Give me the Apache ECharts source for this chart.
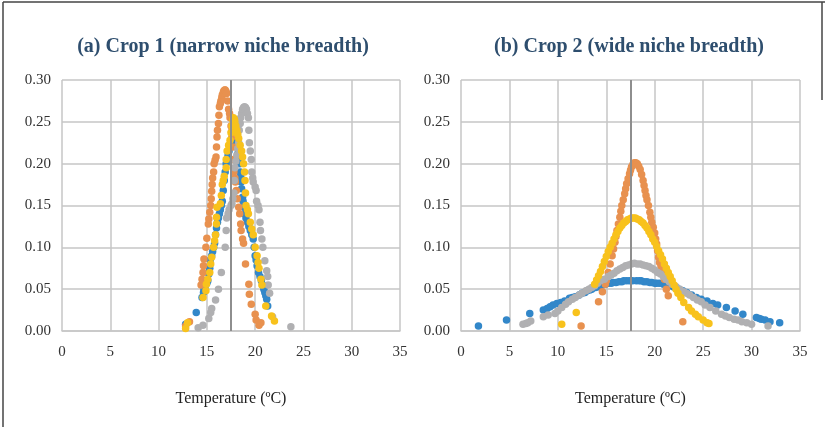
<!DOCTYPE html>
<html>
<head>
<meta charset="utf-8">
<script src="https://cdn.jsdelivr.net/npm/echarts@6/dist/echarts.min.js"></script>
<style>
  html, body { margin: 0; padding: 0; background: #fff; }
  #chart { width: 825px; height: 427px; }
</style>
</head>
<body>
<div id="chart"></div>
<script>
// Crop 1 (narrow niche breadth): [temperature, suitability]
const crop1Blue = [[12.8,0.008],[13.9,0.022],[14.5,0.04],[14.65,0.046],[14.7,0.05],[14.8,0.052],[15.0,0.057],[15.1,0.06],[15.2,0.068],[15.25,0.072],[15.3,0.075],[15.35,0.085],[15.5,0.09],[15.6,0.095],[15.7,0.1],[15.8,0.105],[15.9,0.115],[16.0,0.123],[16.1,0.13],[16.2,0.135],[16.3,0.14],[16.4,0.145],[16.5,0.15],[16.6,0.155],[16.7,0.168],[16.8,0.18],[16.9,0.19],[17.0,0.2],[17.1,0.205],[17.2,0.21],[17.3,0.215],[17.4,0.222],[17.5,0.226],[17.6,0.23],[17.7,0.231],[17.8,0.232],[17.9,0.23],[18.0,0.225],[18.1,0.22],[18.2,0.212],[18.3,0.206],[18.4,0.2],[18.45,0.19],[18.5,0.185],[18.55,0.178],[18.6,0.17],[18.7,0.16],[18.75,0.155],[18.85,0.148],[18.9,0.14],[19.05,0.135],[19.2,0.13],[19.35,0.125],[19.5,0.12],[19.65,0.115],[19.8,0.11],[19.9,0.1],[20.0,0.09],[20.1,0.085],[20.2,0.078],[20.35,0.07],[20.5,0.065],[20.65,0.06],[20.8,0.055],[20.9,0.05],[21.0,0.046],[21.1,0.042],[21.2,0.038],[21.3,0.03]];
const crop1Orange = [[12.8,0.006],[13.2,0.011],[14.4,0.055],[14.5,0.062],[14.6,0.07],[14.65,0.078],[14.7,0.086],[14.9,0.1],[15.0,0.111],[15.15,0.128],[15.2,0.134],[15.3,0.142],[15.4,0.15],[15.45,0.158],[15.5,0.167],[15.55,0.175],[15.6,0.183],[15.7,0.19],[15.75,0.2],[15.85,0.204],[15.95,0.208],[16.0,0.22],[16.05,0.232],[16.1,0.24],[16.2,0.248],[16.25,0.258],[16.3,0.268],[16.4,0.272],[16.45,0.275],[16.55,0.279],[16.6,0.282],[16.7,0.285],[16.75,0.287],[16.85,0.288],[16.9,0.288],[17.0,0.286],[17.05,0.284],[17.15,0.275],[17.25,0.265],[17.35,0.26],[17.4,0.255],[17.5,0.245],[17.55,0.238],[17.6,0.232],[17.7,0.22],[17.75,0.205],[17.8,0.19],[17.9,0.183],[17.95,0.178],[18.05,0.168],[18.15,0.158],[18.3,0.148],[18.4,0.14],[18.5,0.128],[18.55,0.12],[18.7,0.11],[18.8,0.105],[19.0,0.08],[19.35,0.056],[19.4,0.044],[19.6,0.032],[20.0,0.02],[20.1,0.013],[20.4,0.007],[20.6,0.01]];
const crop1Gray = [[14.1,0.004],[14.6,0.007],[15.2,0.015],[15.4,0.022],[15.5,0.027],[15.9,0.037],[16.2,0.05],[16.5,0.07],[16.9,0.1],[17.0,0.12],[17.05,0.135],[17.2,0.14],[17.3,0.145],[17.5,0.15],[17.6,0.152],[17.7,0.158],[17.8,0.165],[17.85,0.18],[17.9,0.195],[18.0,0.203],[18.1,0.21],[18.2,0.218],[18.3,0.225],[18.35,0.24],[18.45,0.248],[18.5,0.255],[18.6,0.26],[18.7,0.265],[18.8,0.267],[18.9,0.268],[19.0,0.267],[19.1,0.265],[19.2,0.26],[19.3,0.255],[19.35,0.24],[19.4,0.225],[19.5,0.215],[19.6,0.205],[19.65,0.19],[19.75,0.183],[19.8,0.178],[20.0,0.172],[20.1,0.168],[20.15,0.155],[20.3,0.15],[20.4,0.145],[20.5,0.13],[20.55,0.12],[20.7,0.11],[20.8,0.1],[21.0,0.084],[21.2,0.072],[21.3,0.065],[21.35,0.055],[21.5,0.045],[21.8,0.017],[23.7,0.005]];
const crop1Yellow = [[12.8,0.003],[13.0,0.01],[14.6,0.04],[14.9,0.048],[14.95,0.056],[15.1,0.062],[15.3,0.07],[15.4,0.08],[15.5,0.088],[15.7,0.1],[15.8,0.108],[15.9,0.115],[16.0,0.128],[16.0,0.136],[16.05,0.148],[16.4,0.152],[16.5,0.162],[16.6,0.175],[16.7,0.18],[16.8,0.185],[17.0,0.195],[17.0,0.205],[17.1,0.215],[17.25,0.222],[17.4,0.228],[17.5,0.237],[17.6,0.245],[17.7,0.252],[17.75,0.255],[17.85,0.253],[17.9,0.25],[18.0,0.245],[18.1,0.24],[18.2,0.235],[18.3,0.23],[18.45,0.222],[18.6,0.215],[18.7,0.208],[18.8,0.2],[18.9,0.19],[18.95,0.18],[19.0,0.165],[19.05,0.15],[19.2,0.145],[19.3,0.14],[19.5,0.13],[19.65,0.122],[19.8,0.115],[20.0,0.1],[20.2,0.09],[20.3,0.082],[20.4,0.075],[20.6,0.062],[20.7,0.055],[21.1,0.03],[21.7,0.018],[22.0,0.012]];

// Crop 2 (wide niche breadth)
const crop2Blue = [[1.8,0.006],[4.7,0.013],[7.1,0.021],[8.5,0.025],[8.9,0.027],[9.2,0.029],[9.5,0.031],[9.9,0.033],[10.3,0.034],[10.7,0.036],[11.2,0.039],[11.5,0.04],[11.8,0.041],[12.2,0.043],[12.5,0.045],[12.8,0.046],[13.0,0.048],[13.3,0.049],[13.5,0.05],[13.9,0.052],[14.2,0.053],[14.6,0.055],[14.9,0.056],[15.2,0.057],[15.5,0.057],[15.7,0.058],[16.0,0.058],[16.3,0.059],[16.6,0.059],[16.8,0.06],[17.1,0.06],[17.4,0.06],[17.7,0.06],[18.1,0.06],[18.4,0.06],[18.6,0.06],[18.9,0.059],[19.2,0.059],[19.5,0.058],[19.7,0.058],[20.0,0.057],[20.2,0.057],[20.5,0.057],[20.9,0.056],[21.2,0.055],[21.5,0.055],[21.9,0.053],[22.2,0.051],[22.5,0.05],[22.9,0.048],[23.3,0.046],[23.8,0.043],[24.3,0.04],[24.8,0.038],[25.4,0.036],[26.0,0.033],[26.5,0.031],[27.4,0.028],[28.3,0.024],[29.1,0.02],[30.5,0.016],[30.8,0.015],[31.0,0.014],[31.4,0.013],[31.9,0.011],[32.9,0.01]];
const crop2Orange = [[12.4,0.006],[14.2,0.035],[14.6,0.047],[14.9,0.056],[15.0,0.06],[15.2,0.07],[15.4,0.08],[15.6,0.09],[15.75,0.098],[15.9,0.106],[16.0,0.113],[16.1,0.12],[16.25,0.128],[16.4,0.136],[16.5,0.143],[16.6,0.15],[16.75,0.157],[16.9,0.164],[17.0,0.17],[17.1,0.176],[17.25,0.182],[17.4,0.188],[17.5,0.192],[17.6,0.196],[17.75,0.199],[17.9,0.201],[18.05,0.201],[18.2,0.2],[18.35,0.197],[18.5,0.193],[18.65,0.187],[18.8,0.18],[18.9,0.174],[19.0,0.168],[19.1,0.162],[19.2,0.157],[19.35,0.15],[19.5,0.142],[19.6,0.136],[19.7,0.13],[19.85,0.124],[20.0,0.117],[20.1,0.11],[20.2,0.104],[20.3,0.096],[20.4,0.088],[20.5,0.082],[20.65,0.077],[20.8,0.072],[21.0,0.062],[21.2,0.05],[21.4,0.042],[22.9,0.011]];
const crop2Gray = [[6.4,0.008],[6.7,0.009],[6.9,0.01],[7.2,0.012],[8.5,0.017],[9.0,0.019],[9.7,0.021],[10.0,0.024],[10.4,0.028],[10.8,0.032],[11.1,0.035],[11.5,0.038],[11.8,0.04],[12.2,0.043],[12.5,0.045],[12.9,0.048],[13.2,0.05],[13.5,0.052],[13.8,0.054],[14.1,0.057],[14.4,0.06],[14.8,0.062],[15.2,0.065],[15.5,0.067],[15.8,0.069],[16.1,0.072],[16.4,0.074],[16.7,0.076],[17.0,0.078],[17.3,0.079],[17.6,0.08],[17.9,0.081],[18.2,0.08],[18.5,0.08],[18.8,0.079],[19.1,0.078],[19.4,0.077],[19.7,0.075],[20.0,0.073],[20.3,0.07],[20.6,0.068],[20.9,0.065],[21.2,0.062],[21.5,0.059],[21.8,0.056],[22.2,0.053],[22.6,0.05],[23.0,0.047],[23.3,0.045],[23.6,0.043],[24.0,0.04],[24.4,0.037],[24.8,0.035],[25.2,0.031],[25.7,0.028],[26.3,0.024],[26.9,0.02],[27.3,0.018],[27.7,0.016],[28.2,0.014],[28.6,0.013],[29.0,0.011],[29.5,0.01],[30.0,0.008],[31.7,0.006]];
const crop2Yellow = [[10.4,0.008],[11.9,0.022],[13.8,0.056],[14.0,0.061],[14.2,0.066],[14.4,0.071],[14.6,0.077],[14.8,0.083],[15.0,0.089],[15.2,0.095],[15.4,0.1],[15.6,0.105],[15.8,0.11],[16.0,0.115],[16.2,0.119],[16.4,0.123],[16.6,0.126],[16.8,0.129],[17.0,0.131],[17.2,0.133],[17.4,0.134],[17.6,0.135],[17.8,0.135],[18.0,0.135],[18.2,0.134],[18.4,0.133],[18.6,0.131],[18.8,0.129],[19.0,0.126],[19.2,0.123],[19.4,0.119],[19.6,0.115],[19.8,0.11],[20.0,0.106],[20.2,0.101],[20.4,0.096],[20.6,0.091],[20.8,0.086],[21.0,0.08],[21.2,0.075],[21.4,0.07],[21.6,0.065],[21.8,0.06],[22.0,0.055],[22.2,0.05],[22.4,0.045],[22.7,0.04],[23.0,0.034],[23.5,0.028],[23.8,0.024],[24.2,0.02],[24.5,0.017],[25.0,0.013],[25.4,0.01],[25.6,0.009]];

const optimumTemp = 17.5;
const panelTitles = ["(a) Crop 1 (narrow niche breadth)", "(b) Crop 2 (wide niche breadth)"];
const colors = ["#3287c9", "#e8914f", "#b0b0b2", "#f8c21c"];

const serif = "'Liberation Serif', 'DejaVu Serif', serif";
const gridColor = "#c6c6c6";

function buildAxes(index) {
  const xAxis = {
    type: "value", gridIndex: index, min: 0, max: 35, interval: 5,
    name: "Temperature (ºC)", nameLocation: "middle", nameGap: 60,
    nameTextStyle: { fontFamily: serif, fontSize: 16, color: "#222" },
    axisLine: { show: true, lineStyle: { color: gridColor, width: 1.5 } },
    axisTick: { show: false },
    axisLabel: { fontFamily: serif, fontSize: 15, color: "#333", margin: 14 },
    splitLine: { show: true, lineStyle: { color: gridColor, width: 1.5 } },
  };
  const yAxis = {
    type: "value", gridIndex: index, min: 0, max: 0.3, interval: 0.05,
    axisLine: { show: false }, axisTick: { show: false },
    axisLabel: { fontFamily: serif, fontSize: 15, color: "#333", margin: 11, formatter: (v) => v.toFixed(2) },
    splitLine: { show: true, lineStyle: { color: gridColor, width: 1.5 } },
  };
  return { xAxis, yAxis };
}

function buildPanel(index, seriesData) {
  const list = seriesData.map((data, i) => ({
    type: "scatter", xAxisIndex: index, yAxisIndex: index,
    data, symbolSize: 7.5, itemStyle: { color: colors[i], opacity: 1 },
    silent: true,
  }));
  list[0].markLine = {
    symbol: "none", silent: true, label: { show: false },
    lineStyle: { color: "#8e8e8e", width: 2, type: "solid" },
    data: [{ xAxis: optimumTemp }],
  };
  return list;
}

const axes1 = buildAxes(0);
const axes2 = buildAxes(1);

const chart = echarts.init(document.getElementById("chart"));
chart.setOption({
  animation: false,
  title: [
    { text: panelTitles[0], left: 218, top: 32, textAlign: "center",
      textStyle: { fontFamily: serif, fontSize: 20, fontWeight: "bold", color: "#2e4e6e" } },
    { text: panelTitles[1], left: 624, top: 32, textAlign: "center",
      textStyle: { fontFamily: serif, fontSize: 20, fontWeight: "bold", color: "#2e4e6e" } },
  ],
  grid: [
    { left: 62, right: 425, top: 80, bottom: 96 },
    { left: 461, right: 25, top: 80, bottom: 96 },
  ],
  xAxis: [axes1.xAxis, axes2.xAxis],
  yAxis: [axes1.yAxis, axes2.yAxis],
  series: [
    ...buildPanel(0, [crop1Blue, crop1Orange, crop1Gray, crop1Yellow]),
    ...buildPanel(1, [crop2Blue, crop2Orange, crop2Gray, crop2Yellow]),
  ],
  graphic: [
    { type: "line", shape: { x1: 3, y1: 2, x2: 825, y2: 2 }, style: { stroke: "#444", lineWidth: 1.5 } },
    { type: "line", shape: { x1: 3, y1: 2, x2: 3, y2: 427 }, style: { stroke: "#444", lineWidth: 1.5 } },
    { type: "line", shape: { x1: 822, y1: 2, x2: 822, y2: 100 }, style: { stroke: "#444", lineWidth: 1.5 } },
  ],
});
</script>
</body>
</html>
